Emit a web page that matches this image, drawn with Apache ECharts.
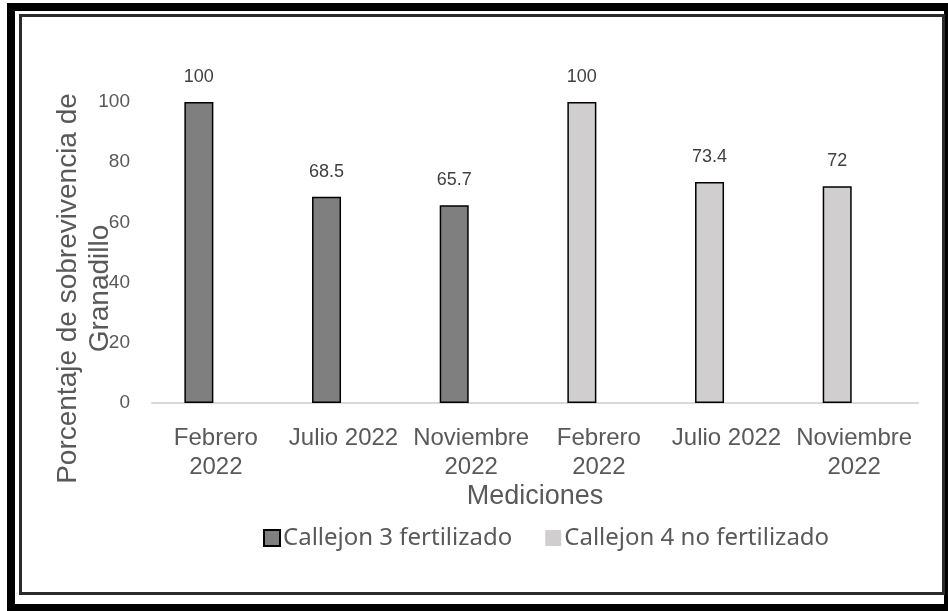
<!DOCTYPE html>
<html>
<head>
<meta charset="utf-8">
<script src="https://cdn.jsdelivr.net/npm/echarts@6/dist/echarts.min.js"></script>
<style>
  html, body { margin: 0; padding: 0; background: #fff; }
  #chart { width: 948px; height: 611px; }
</style>
</head>
<body>
<div id="chart"></div>
<script>
// Mediciones (category labels)
const categories = ['Febrero\n2022', 'Julio 2022', 'Noviembre\n2022', 'Febrero\n2022', 'Julio 2022', 'Noviembre\n2022'];
// Survival percentages per alley
const callejon3 = [100, 68.5, 65.7, null, null, null];
const callejon4 = [null, null, null, 100, 73.4, 72];
const seriesNames = ['Callejon 3 fertilizado', 'Callejon 4 no fertilizado'];
const yTicks = { min: 0, max: 100, interval: 20 };

const chart = echarts.init(document.getElementById('chart'), null, { renderer: 'canvas' });

const labelStyle = {
  show: true,
  position: 'top',
  distance: 16,
  color: '#404040',
  fontFamily: 'Liberation Sans, sans-serif',
  fontSize: 18
};

const toData = arr => arr.map(v => (v === null ? '-' : v));

chart.setOption({
  backgroundColor: '#ffffff',
  animation: false,
  graphic: [
    { type: 'rect', shape: { x: 11, y: 7, width: 937, height: 601 },
      style: { fill: 'none', stroke: '#000', lineWidth: 8 }, z: 100 },
    { type: 'rect', shape: { x: 20.5, y: 15.5, width: 923, height: 578 },
      style: { fill: 'none', stroke: '#2b2b2b', lineWidth: 3 }, z: 100 }
  ],
  grid: { left: 152, right: 30, top: 102, bottom: 208, containLabel: false },
  legend: {
    top: 521,
    left: 258,
    itemWidth: 16,
    itemHeight: 16,
    itemGap: 33,
    icon: 'rect',
    textStyle: { color: '#595959', fontSize: 24, padding: [0, 0, 0, -2], fontFamily: 'Noto Sans, sans-serif' },
    data: [
      { name: seriesNames[0] },
      { name: seriesNames[1], itemStyle: { borderWidth: 0 } }
    ]
  },
  xAxis: {
    type: 'category',
    data: categories,
    name: 'Mediciones',
    nameLocation: 'middle',
    nameGap: 75,
    nameTextStyle: { color: '#595959', fontSize: 27, fontFamily: 'Liberation Sans, sans-serif' },
    axisLine: { lineStyle: { color: '#d9d9d9', width: 2 } },
    axisTick: { show: false },
    axisLabel: {
      color: '#595959', fontSize: 24, lineHeight: 29, margin: 21,
      fontFamily: 'Liberation Sans, sans-serif',
      interval: 0
    }
  },
  yAxis: {
    type: 'value',
    min: yTicks.min, max: yTicks.max, interval: yTicks.interval,
    name: 'Porcentaje de sobrevivencia de\nGranadillo',
    nameLocation: 'middle',
    nameGap: 36,
    nameRotate: 90,
    nameMoveOverlap: false,
    nameTextStyle: {
      color: '#595959', fontSize: 28, lineHeight: 32,
      fontFamily: 'Liberation Sans, sans-serif',
      padding: [0, 72, 0, 0]
    },
    axisLine: { show: false },
    axisTick: { show: false },
    splitLine: { show: false },
    axisLabel: { color: '#595959', fontSize: 19, margin: 22, fontFamily: 'Liberation Sans, sans-serif' }
  },
  series: [
    {
      name: seriesNames[0], type: 'bar', stack: 'medicion', barWidth: 29, barGap: '17%',
      data: toData(callejon3),
      itemStyle: { color: '#7f7f7f', borderColor: '#000', borderWidth: 1.5 },
      label: labelStyle
    },
    {
      name: seriesNames[1], type: 'bar', stack: 'medicion', barWidth: 29, barGap: '17%',
      data: toData(callejon4),
      itemStyle: { color: '#d0cece', borderColor: '#000', borderWidth: 1.5 },
      label: labelStyle
    },
    {
      // empty second slot in each category keeps the bars to the left of the label
      type: 'bar', barWidth: 29, barGap: '17%',
      data: categories.map(() => '-'),
      silent: true
    }
  ]
});
</script>
</body>
</html>
